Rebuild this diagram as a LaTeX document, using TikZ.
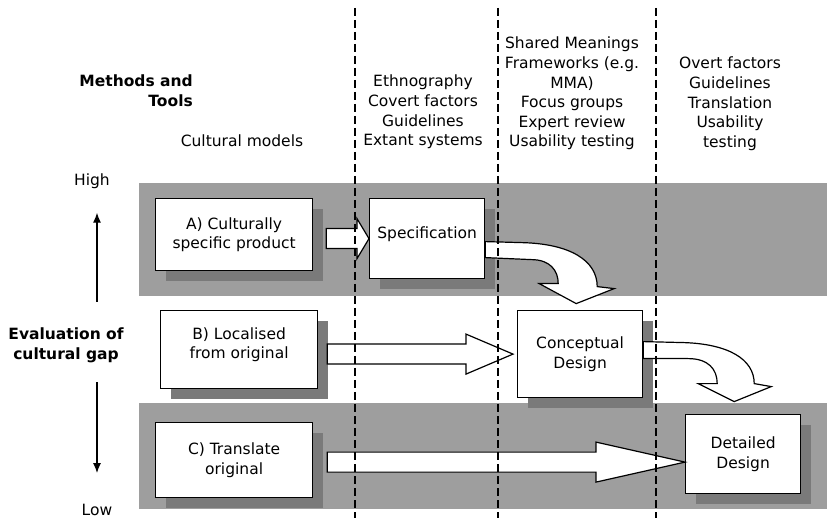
\documentclass[tikz,border=0pt]{standalone}
\usepackage{fontspec}
\setmainfont{DejaVu Sans}
\usetikzlibrary{arrows.meta,calc,shadows}

\definecolor{bandgray}{gray}{0.62}
\definecolor{shadowgray}{gray}{0.48}

\newcommand*\labelfont{\fontsize{15.5}{19.6}\selectfont}
\newcommand*\shafthalf{10pt}
\newcommand*\headhalf{20pt}
\tikzset{stage/.style 2 args={
    draw,
    line width=1.2pt,
    font=\labelfont,
    rectangle,
    fill=white,
    anchor=north west,
    inner sep=2pt,
    minimum width=#1,
    minimum height=#2,
    align=center,
    drop shadow={shadow xshift=10pt,shadow yshift=-10pt,fill=shadowgray,opacity=1}
}}
\tikzset{
    label/.style={font=\labelfont, align=center, inner sep=0pt},
    heading/.style={font=\labelfont\bfseries, align=center, inner sep=0pt},
    blockarrow/.style={draw, fill=white, line width=1.2pt, line join=miter},
    gaparrow/.style={line width=1.2pt, -{Latex[length=10pt,width=8pt]}},
    divider/.style={line width=1.3pt, dash pattern=on 8pt off 4pt}
}

% wide hollow arrow: tail, tip, head length
\newcommand*\widearrow[3]{%
    \draw[blockarrow] let \p1=(#1), \p2=(#2) in
        (\x1,\y2+\shafthalf) -- (\x2-#3,\y2+\shafthalf) -- (\x2-#3,\y2+\headhalf)
        -- (\x2,\y2) -- (\x2-#3,\y2-\headhalf) -- (\x2-#3,\y2-\shafthalf)
        -- (\x1,\y2-\shafthalf) -- cycle;}

\begin{document}
\begin{tikzpicture}[x=1pt,y=-1pt]
    \useasboundingbox (0,0) rectangle (827,518);

    % Grey bands for high and low gap.
    \fill[bandgray] (139,183) rectangle (827,296);
    \fill[bandgray] (139,403) rectangle (827,509);

    % Cultural models.
    \node[stage={157pt}{72pt}] (modelA) at (155,198) {A) Culturally\\specific product};
    \node[stage={157pt}{78pt}] (modelB) at (160,310) {B) Localised\\from original\\[-7pt]};
    \node[stage={157pt}{75pt}] (modelC) at (155,422) {C) Translate\\original};

    % Design stages.
    \node[stage={115pt}{80pt}] (spec) at (369,198) {Specification\\[-7pt]};
    \node[stage={125pt}{87pt}] (concept) at (517,310) {Conceptual\\Design};
    \node[stage={115pt}{79pt}] (detail) at (685,414) {Detailed\\Design};

    % Straight arrows into the stages.
    \widearrow{$(modelA.east)+(13,0)$}{spec.west}{12pt}
    \widearrow{$(modelB.east)+(9,0)$}{$(concept.west)+(-4,0)$}{47pt}
    \widearrow{$(modelC.east)+(14,0)$}{$(detail.west)+(0,8)$}{89pt}

    % Bent arrows from one stage down to the next.
    \begin{scope}[shift={(spec.east)}]
        \draw[blockarrow] (0,3) -- (36,4) .. controls (85,5) and (112,22) .. (112,48)
            -- (129,50) -- (91,65) -- (54,45) -- (73,45)
            .. controls (73,32) and (65,21) .. (46,21) -- (0,19) -- cycle;
    \end{scope}
    \begin{scope}[shift={(concept.east)}]
        \draw[blockarrow] (0,-12.5) -- (41,-11.5) .. controls (85,-10) and (111,5) .. (111,29.5)
            -- (128,32.5) -- (91,47.5) -- (55,29.5) -- (74,29.5)
            .. controls (74,15) and (65,4.5) .. (45,4.5) -- (0,4.5) -- cycle;
    \end{scope}

    % Column dividers.
    \foreach \colx in {355,498,656}
        \draw[divider] (\colx,8) -- (\colx,518);

    % Headings and methods per column.
    \node[heading, align=right, anchor=north east] (methods) at (193,75) {Methods and\\Tools};
    \node[label] (models) at (242,141) {Cultural models};
    \node[label, anchor=north] (ethno) at (423,75) {Ethnography\\Covert factors\\Guidelines\\Extant systems};
    \node[label, anchor=north] (shared) at (572,37) {Shared Meanings\\Frameworks (e.g.\\MMA)\\Focus groups\\Expert review\\Usability testing};
    \node[label, anchor=north] (overt) at (730,57) {Overt factors\\Guidelines\\Translation\\Usability\\testing};

    % Gap axis.
    \node[label] (high) at (92,181) {High};
    \node[heading, anchor=north] (evalgap) at (66,328) {Evaluation of\\cultural gap};
    \node[label] (low) at (97,510) {Low};
    \coordinate (uptail) at (97,302);
    \coordinate (downtail) at (97,382);
    \draw[gaparrow, shorten >=24pt] (uptail) -- (uptail |- high.south);
    \draw[gaparrow, shorten >=31pt] (downtail) -- (downtail |- low.north);

\end{tikzpicture}
\end{document}
